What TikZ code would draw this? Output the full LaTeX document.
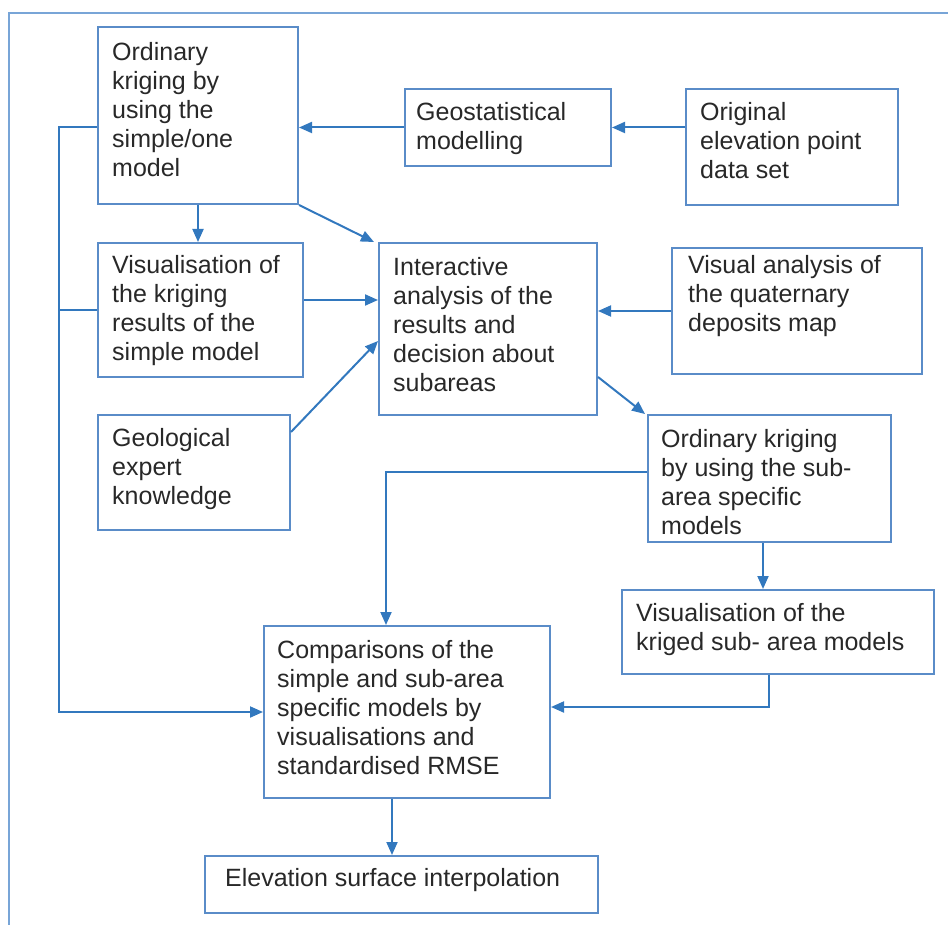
\documentclass[tikz,border=0pt]{standalone}
\usepackage{fontspec}
\setmainfont{Liberation Sans}
\usetikzlibrary{arrows.meta,calc}
\definecolor{lineblue}{RGB}{50,120,190}
\definecolor{boxblue}{RGB}{90,140,200}
\definecolor{frameblue}{RGB}{120,165,215}
\definecolor{txtgray}{RGB}{40,40,40}
\tikzset{
 box/.style={draw=boxblue, line width=2pt, rectangle, inner sep=0pt, anchor=north west},
 txt/.style={anchor=north west, inner sep=0pt, align=left, text=txtgray, font=\fontsize{25}{29}\selectfont},
 conn/.style={draw=lineblue, line width=2pt},
 arr/.style={conn, -{Triangle[length=13pt,width=11pt]}},
}
\begin{document}
\begin{tikzpicture}[x=1pt,y=-1pt]
\useasboundingbox (0,0) rectangle (948,925);
% frame
\draw[draw=frameblue, line width=2.4pt] (9,925) -- (9,13) -- (948,13);
% boxes
\node[box, minimum width=200pt, minimum height=177pt] (o1) at (97,26) {};
\node[box, minimum width=206pt, minimum height=77pt] (geo) at (404,88) {};
\node[box, minimum width=212pt, minimum height=116pt] (orig) at (685,88) {};
\node[box, minimum width=205pt, minimum height=134pt] (vis1) at (97,242) {};
\node[box, minimum width=218pt, minimum height=172pt] (inter) at (378,242) {};
\node[box, minimum width=250pt, minimum height=126pt] (vqa) at (671,247) {};
\node[box, minimum width=192pt, minimum height=115pt] (geol) at (97,414) {};
\node[box, minimum width=243pt, minimum height=127pt] (o2) at (647,414) {};
\node[box, minimum width=312pt, minimum height=84pt] (vis2) at (621,589) {};
\node[box, minimum width=286pt, minimum height=172pt] (comp) at (263,625) {};
\node[box, minimum width=393pt, minimum height=57pt] (elev) at (204,855) {};
% texts
\node[txt] (o1t) at (112,42) {Ordinary\\kriging by\\using the\\simple/one\\model};
\node[txt] (geot) at (416,102) {Geostatistical\\modelling};
\node[txt] (origt) at (700,102) {Original\\elevation point\\data set};
\node[txt] (vis1t) at (112,255) {Visualisation of\\the kriging\\results of the\\simple model};
\node[txt] (intert) at (393,257) {Interactive\\analysis of the\\results and\\decision about\\subareas};
\node[txt] (vqat) at (688,255) {Visual analysis of\\the quaternary\\deposits map};
\node[txt] (geolt) at (112,428) {Geological\\expert\\knowledge};
\node[txt] (o2t) at (661,429) {Ordinary kriging\\by using the sub-\\area specific\\models};
\node[txt] (vis2t) at (636,603) {Visualisation of the\\kriged sub- area models};
\node[txt] (compt) at (277,640) {Comparisons of the\\simple and sub-area\\specific models by\\visualisations and\\standardised RMSE};
\node[txt] (elevt) at (225,868) {Elevation surface interpolation};
% helper coordinates
\coordinate (lx) at (59,0);
\coordinate (ya) at (0,127);
\coordinate (yv) at (0,300);
\coordinate (yi) at (0,377);
\coordinate (yo) at (0,472);
\coordinate (xo) at (386,0);
\coordinate (xd) at (763,0);
\coordinate (xv) at (769,0);
\coordinate (yw) at (0,707);
\coordinate (xe) at (392,0);
% connectors
\draw[arr] (orig.west |- geo.east) -- (geo.east);
\draw[arr] (geo.west) -- (o1.east |- geo.west);
\draw[arr] (o1.south) -- (o1.south |- vis1.north);
\draw[arr] (o1.south east) -- ($(inter.north west)+(-4,0)$);
\draw[arr] (vis1.east |- yv) -- (inter.west |- yv);
\draw[arr] ($(geol.north east)+(0,18)$) -- ($(inter.west)+(0,12)$);
\draw[arr] (vqa.west) -- (inter.east |- vqa.west);
\draw[arr] (inter.east |- yi) -- ($(o2.north west)+(-2,0)$);
\draw[arr] (xd |- o2.south) -- (xd |- vis2.north);
\draw[arr] (o2.west |- yo) -- (xo |- yo) -- (xo |- comp.north);
\draw[arr] (xv |- vis2.south) -- (xv |- yw) -- (comp.east |- yw);
\draw[arr] (o1.west |- ya) -- (lx |- ya) -- (lx |- comp.west) -- (comp.west);
\draw[conn] (vis1.west) -- (lx |- vis1.west);
\draw[arr] (xe |- comp.south) -- (xe |- elev.north);
\end{tikzpicture}
\end{document}
